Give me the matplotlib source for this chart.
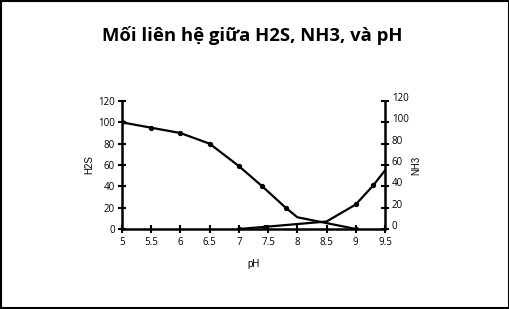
import matplotlib
matplotlib.use("Agg")
import matplotlib.pyplot as plt
import matplotlib.transforms as mtransforms
from matplotlib.patches import Rectangle

# du lieu doc tu hinh
ph_h2s = [5, 5.5, 6, 6.5, 7, 7.4, 7.8, 8, 9]
h2s = [100, 95, 90, 80, 59, 40, 20, 11, 0]
h2s_mark = [True, True, True, True, True, True, True, False, True]

ph_nh3 = [7, 7.45, 8.5, 9, 9.3, 9.5]
nh3 = [0, 2, 7, 23, 41, 55]
nh3_mark = [True, True, False, True, True, False]

xticks = [5, 5.5, 6, 6.5, 7, 7.5, 8, 8.5, 9, 9.5]
yticks = [0, 20, 40, 60, 80, 100, 120]

plt.rcParams['font.family'] = ['Open Sans', 'DejaVu Sans']

fig = plt.figure(figsize=(5.10, 3.09), dpi=100)
fig.patches.append(Rectangle((0.002, 0.003), 0.996, 0.994, transform=fig.transFigure,
                             fill=False, edgecolor='black', linewidth=1.5))

ax = fig.add_axes([0.239, 0.259, 0.516, 0.414])
ax2 = ax.twinx()

ax.plot(ph_h2s, h2s, color='black', linewidth=1.6)
ax.plot([x for x, m in zip(ph_h2s, h2s_mark) if m], [y for y, m in zip(h2s, h2s_mark) if m],
        'o', color='black', markersize=2.8)
ax.plot(ph_nh3, nh3, color='black', linewidth=1.6)
ax.plot([x for x, m in zip(ph_nh3, nh3_mark) if m], [y for y, m in zip(nh3, nh3_mark) if m],
        'o', color='black', markersize=2.8)

for a in (ax, ax2):
    a.set_xlim(5, 9.5)
    a.set_ylim(0, 120)
    a.spines['top'].set_visible(False)
    for s in ('left', 'right', 'bottom'):
        a.spines[s].set_linewidth(1.8)
ax.spines['right'].set_visible(False)
ax2.spines['left'].set_visible(False)
ax2.spines['bottom'].set_visible(False)

ax.set_xticks(xticks)
ax.set_xticklabels([str(t) for t in xticks])
ax.set_yticks(yticks)
ax2.set_yticks(yticks)
ax.tick_params(axis='x', direction='inout', length=6, width=1.5, labelsize=7, pad=3)
ax.tick_params(axis='y', direction='inout', length=6, width=1.5, labelsize=7, pad=2)
ax2.tick_params(axis='y', direction='inout', length=6, width=1.5, labelsize=7, pad=2)

off = mtransforms.ScaledTranslation(0, 4 / 100, fig.dpi_scale_trans)
for lbl in ax2.get_yticklabels():
    lbl.set_transform(lbl.get_transform() + off)

ax.set_xlabel('pH', fontsize=7, family=['Liberation Sans'], labelpad=8)
ax.set_ylabel('H2S', fontsize=7, family=['Liberation Sans'], labelpad=3)
ax2.set_ylabel('NH3', fontsize=7, family=['Liberation Sans'], labelpad=2, rotation=90)

fig.text(0.495, 0.885, 'Mối liên hệ giữa H2S, NH3, và pH', ha='center', va='center',
         fontsize=13.3, fontweight='bold')

fig.savefig('out.png', dpi=100)
